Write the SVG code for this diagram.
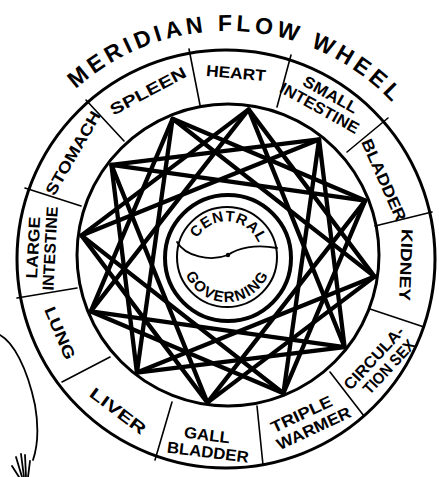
<svg xmlns="http://www.w3.org/2000/svg" width="439" height="477" viewBox="0 0 439 477">
<defs>
<style>
.ring{fill:none;stroke:#000;stroke-width:3}
.div{fill:none;stroke:#000;stroke-width:1.6;stroke-linecap:round}
.star{fill:none;stroke:#000;stroke-width:4.3;stroke-linejoin:round;stroke-linecap:round}
.thin{fill:none;stroke:#000;stroke-width:1.8;stroke-linecap:round}
.lbl{font-family:"Liberation Sans",Arial,sans-serif;font-weight:bold;font-size:16px;fill:#000;text-anchor:middle}
.ttl{font-family:"Liberation Sans",Arial,sans-serif;font-weight:bold;font-size:23px;fill:#000}
.ctr{font-family:"Liberation Sans",Arial,sans-serif;font-weight:bold;font-size:15px;fill:#000}
</style>
<path id="titleArc" d="M75.8,89 A226,226 0 0 1 422.7,144"/>
<path id="centralArc" d="M197.1,238.5 A34,34 0 0 1 259.7,247.6"/>
<path id="governArc" d="M185.6,274.6 A45,45 0 0 0 269.8,270.9"/>
</defs>
<rect width="439" height="477" fill="#fff"/>

<g id="title">
<text class="ttl"><textPath href="#titleArc" textLength="350" lengthAdjust="spacing">MERIDIAN FLOW WHEEL</textPath></text>
</g>

<g id="wheel">
<circle class="ring" cx="226" cy="259" r="209"/>
<circle class="ring" cx="228" cy="255" r="151"/>
<line class="div" x1="189" y1="49" x2="200" y2="105"/>
<line class="div" x1="291" y1="55" x2="277" y2="107"/>
<line class="div" x1="388" y1="118" x2="347" y2="152"/>
<line class="div" x1="432" y1="212" x2="375" y2="226"/>
<line class="div" x1="424" y1="327" x2="370" y2="309"/>
<line class="div" x1="364" y1="416" x2="330" y2="372"/>
<line class="div" x1="263" y1="465" x2="257" y2="406"/>
<line class="div" x1="155" y1="460" x2="172" y2="402"/>
<line class="div" x1="62" y1="382" x2="110" y2="357"/>
<line class="div" x1="17" y1="298" x2="77" y2="288"/>
<line class="div" x1="25" y1="188" x2="81" y2="206"/>
<line class="div" x1="86" y1="100" x2="124" y2="141"/>
</g>

<g id="heart"><text class="lbl" transform="translate(236,73) rotate(5)" dy="0.35em" textLength="60" lengthAdjust="spacingAndGlyphs">HEART</text></g>
<g id="small-intestine" transform="translate(324,100) rotate(29)">
<text class="lbl" x="3" y="-8" dy="0.35em" textLength="60" lengthAdjust="spacingAndGlyphs">SMALL</text>
<text class="lbl" x="0" y="9" dy="0.35em" textLength="88" lengthAdjust="spacingAndGlyphs">INTESTINE</text>
</g>
<g id="bladder"><text class="lbl" transform="translate(384,180) rotate(66)" dy="0.35em" textLength="88" lengthAdjust="spacingAndGlyphs">BLADDER</text></g>
<g id="kidney"><text class="lbl" transform="translate(406,265) rotate(92)" dy="0.35em" textLength="72" lengthAdjust="spacingAndGlyphs">KIDNEY</text></g>
<g id="circulation-sex" transform="translate(381,362) rotate(-47)">
<text class="lbl" x="-2" y="-8" dy="0.35em" textLength="80" lengthAdjust="spacingAndGlyphs">CIRCULA-</text>
<text class="lbl" x="2" y="9" dy="0.35em" textLength="68" lengthAdjust="spacingAndGlyphs">TION SEX</text>
</g>
<g id="triple-warmer" transform="translate(308,421) rotate(-25)">
<text class="lbl" x="-3" y="-9" dy="0.35em" textLength="66" lengthAdjust="spacingAndGlyphs">TRIPLE</text>
<text class="lbl" x="2" y="9" dy="0.35em" textLength="80" lengthAdjust="spacingAndGlyphs">WARMER</text>
</g>
<g id="gall-bladder" transform="translate(208,443) rotate(7)">
<text class="lbl" x="-2" y="-8" dy="0.35em" textLength="46" lengthAdjust="spacingAndGlyphs">GALL</text>
<text class="lbl" x="1" y="9" dy="0.35em" textLength="82" lengthAdjust="spacingAndGlyphs">BLADDER</text>
</g>
<g id="liver"><text class="lbl" transform="translate(118,411) rotate(37)" dy="0.35em" textLength="66" lengthAdjust="spacingAndGlyphs">LIVER</text></g>
<g id="lung"><text class="lbl" transform="translate(60,333) rotate(67)" dy="0.35em" textLength="56" lengthAdjust="spacingAndGlyphs">LUNG</text></g>
<g id="large-intestine" transform="translate(41,248) rotate(-87)">
<text class="lbl" x="0" y="-8" dy="0.35em" textLength="62" lengthAdjust="spacingAndGlyphs">LARGE</text>
<text class="lbl" x="0" y="9" dy="0.35em" textLength="84" lengthAdjust="spacingAndGlyphs">INTESTINE</text>
</g>
<g id="stomach"><text class="lbl" transform="translate(73,153) rotate(-60)" dy="0.35em" textLength="94" lengthAdjust="spacingAndGlyphs">STOMACH</text></g>
<g id="spleen"><text class="lbl" transform="translate(148,91) rotate(-28)" dy="0.35em" textLength="84" lengthAdjust="spacingAndGlyphs">SPLEEN</text></g>

<g id="connectors">
<polygon class="star" points="172.6,118.8 374.6,276.6 136.9,372.6"/>
<polygon class="star" points="248.6,109.4 344.6,347.1 90.8,311.4"/>
<polygon class="star" points="319.1,139.4 283.4,393.2 81.4,235.4"/>
<polygon class="star" points="365.2,200.6 207.4,402.6 111.4,164.9"/>
<polygon class="star" points="172.6,118.8 365.2,200.6 283.4,393.2 90.8,311.4"/>
<polygon class="star" points="248.6,109.4 374.6,276.6 207.4,402.6 81.4,235.4"/>
<polygon class="star" points="319.1,139.4 344.6,347.1 136.9,372.6 111.4,164.9"/>
</g>

<g id="central-governing">
<circle cx="228" cy="258" r="63" fill="#fff" stroke="#000" stroke-width="4"/>
<circle cx="227" cy="257" r="50" fill="none" stroke="#000" stroke-width="2"/>
<path class="thin" d="M177,242 C185,256 210,262 228,255 C238,248 255,244 277,248"/>
<circle cx="228" cy="255" r="2.2" fill="#000"/>
<text class="ctr"><textPath href="#centralArc" textLength="76" lengthAdjust="spacing">CENTRAL</textPath></text>
<text class="ctr"><textPath href="#governArc" textLength="104" lengthAdjust="spacing">GOVERNING</textPath></text>
</g>

<g id="sketch">
<path class="thin" d="M0,335 C13,342 27,367 35,405 C39,428 38,445 33,460"/>
<path class="thin" d="M16,457 L22,477 M21,454 L24,477 M25,455 L26,477 M30,461 L28,477 M12,466 L19,477"/>
</g>
</svg>
